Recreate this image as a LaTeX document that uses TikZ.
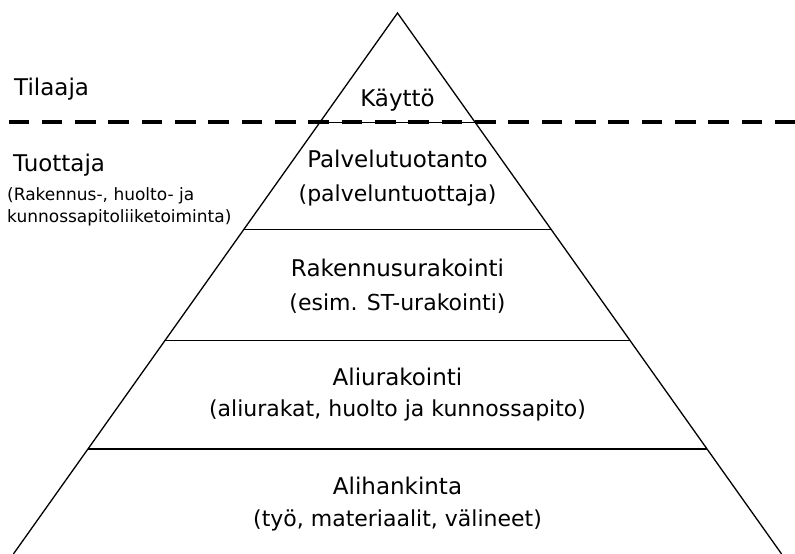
\documentclass[tikz,border=0pt]{standalone}
\usepackage{fontspec}
\setmainfont{DejaVu Sans}
\usetikzlibrary{calc}
\begin{document}
\begin{tikzpicture}[x=1pt,y=-1pt,
  side/.style={line width=1.3pt, black},
  layer/.style={line width=1.8pt, black},
  toplayer/.style={line width=1pt, black},
  divider/.style={line width=4.3pt, black, dash pattern=on 20.5pt off 12.83pt},
  lbl/.style={inner sep=0pt, anchor=base, font=\fontsize{23}{27}\selectfont},
  sublbl/.style={inner sep=0pt, anchor=base, font=\fontsize{22}{26}\selectfont},
  sidelbl/.style={inner sep=0pt, anchor=base west, font=\fontsize{23}{27}\selectfont},
  smalllbl/.style={inner sep=0pt, anchor=base west, font=\fontsize{17}{20}\selectfont}]
\useasboundingbox (0,0) rectangle (795,554);

% pyramid corners
\coordinate (apex) at (397.5,13);
\coordinate (bl) at (13.4,554);
\coordinate (br) at (781.6,554);

% layer boundaries on the sides
\coordinate (l1) at ($(apex)!0.2015!(bl)$);
\coordinate (r1) at ($(apex)!0.2015!(br)$);
\coordinate (l2) at ($(apex)!0.4002!(bl)$);
\coordinate (r2) at ($(apex)!0.4002!(br)$);
\coordinate (l3) at ($(apex)!0.6054!(bl)$);
\coordinate (r3) at ($(apex)!0.6054!(br)$);
\coordinate (l4) at ($(apex)!0.8059!(bl)$);
\coordinate (r4) at ($(apex)!0.8059!(br)$);

\draw[side] (bl) -- (apex) -- (br);
\draw[toplayer] (l1) -- (r1);
\draw[layer] (l2) -- (r2);
\draw[layer] (l3) -- (r3);
\draw[layer] (l4) -- (r4);

% dashed divider between Tilaaja and Tuottaja
\coordinate (dl) at (8.5,122);
\coordinate (dr) at (800,122);
\draw[divider] (dl) -- (dr);

% layer texts
\node[lbl] (kaytto) at (397.5,106) {Käyttö};
\node[lbl] (palv) at (397.5,167.5) {Palvelutuotanto};
\node[sublbl] (palvsub) at (397.5,201.5) {(palveluntuottaja)};
\node[lbl] (rak) at (397.5,276) {Rakennusurakointi};
\node[sublbl] (raksub) at (397.5,310.5) {(esim. ST-urakointi)};
\node[lbl] (ali) at (397.5,385) {Aliurakointi};
\node[sublbl] (alisub) at (397.5,416.5) {(aliurakat, huolto ja kunnossapito)};
\node[lbl] (alih) at (397.5,494) {Alihankinta};
\node[sublbl] (alihsub) at (397.5,526) {(työ, materiaalit, välineet)};

% side labels
\node[sidelbl] (tilaaja) at (14,95) {Tilaaja};
\node[sidelbl] (tuottaja) at (13,171) {Tuottaja};
\node[smalllbl] (tuot1) at (7,200) {(Rakennus-, huolto- ja};
\node[smalllbl] (tuot2) at (7,222) {kunnossapitoliiketoiminta)};
\end{tikzpicture}
\end{document}
